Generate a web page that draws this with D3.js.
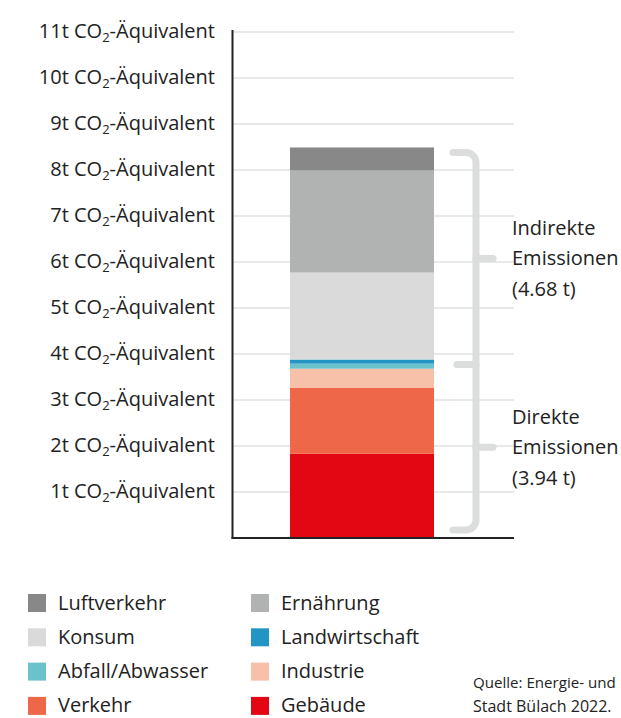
<!DOCTYPE html>
<html>
<head>
<meta charset="utf-8">
<script src="https://cdn.jsdelivr.net/npm/d3@7"></script>
<style>
  html, body { margin: 0; padding: 0; background: #fff; }
  svg { display: block; font-family: "Open Sans", "Noto Sans", sans-serif; }
</style>
</head>
<body>
<svg id="chart" width="621" height="718"></svg>
<script>
// ---- data ----
const category = ["Bülach"];
const sectors = ["Gebäude", "Verkehr", "Industrie", "Abfall/Abwasser", "Landwirtschaft", "Konsum", "Ernährung", "Luftverkehr"];
const values = [1.83, 1.44, 0.41, 0.11, 0.09, 1.89, 2.22, 0.50];
const colors = ["#e30613", "#ee6748", "#f7c0a8", "#6cc2cb", "#2295c4", "#d9dad9", "#b1b3b3", "#878887"];
const legendOrder = ["Luftverkehr", "Ernährung", "Konsum", "Landwirtschaft", "Abfall/Abwasser", "Industrie", "Verkehr", "Gebäude"];
const yTicks = [1, 2, 3, 4, 5, 6, 7, 8, 9, 10, 11];
const groups = [
  { lines: ["Indirekte", "Emissionen", "(4.68 t)"], from: "Konsum", to: "Luftverkehr" },
  { lines: ["Direkte", "Emissionen", "(3.94 t)"], from: "Gebäude", to: "Landwirtschaft" }
];
const sourceLines = ["Quelle: Energie- und", "Stadt Bülach 2022."];

// ---- layout ----
const svg = d3.select("#chart");
const axisX = 232.5, baseY = 538, plotRight = 514;
const y = d3.scaleLinear().domain([0, 11]).range([baseY, 32]);
const x = d3.scaleBand().domain(category).range([290, 434]).padding(0);
const textColor = "#222";

// stacked data
const row = { cat: category[0] };
sectors.forEach((s, i) => row[s] = values[i]);
const stack = d3.stack().keys(sectors)([row]);
const colorOf = d3.scaleOrdinal().domain(sectors).range(colors);

// gridlines
svg.append("g").selectAll("line").data(yTicks).join("line")
  .attr("x1", axisX).attr("x2", plotRight)
  .attr("y1", d => y(d)).attr("y2", d => y(d))
  .attr("stroke", "#e2e2e2").attr("stroke-width", 1.5);

// y labels
const lab = svg.append("g").selectAll("text").data(yTicks).join("text")
  .attr("x", 215).attr("y", d => y(d) + 6)
  .attr("text-anchor", "end").attr("font-size", 20).attr("fill", textColor);
lab.append("tspan").text(d => d + "t CO");
lab.append("tspan").attr("font-size", 13).attr("dy", 4).text("2");
lab.append("tspan").attr("dy", -4).text("-Äquivalent");

// bars
svg.append("g").selectAll("rect").data(stack).join("rect")
  .attr("x", x(category[0])).attr("width", x.bandwidth())
  .attr("y", d => y(d[0][1])).attr("height", d => y(d[0][0]) - y(d[0][1]))
  .attr("fill", d => colorOf(d.key));

// axes
svg.append("line").attr("x1", axisX).attr("x2", axisX).attr("y1", 30).attr("y2", baseY + 1)
  .attr("stroke", textColor).attr("stroke-width", 2);
svg.append("line").attr("x1", axisX - 1).attr("x2", plotRight).attr("y1", baseY).attr("y2", baseY)
  .attr("stroke", textColor).attr("stroke-width", 2);

// bracket
const layerOf = k => stack.find(s => s.key === k)[0];
const totalTop = y(layerOf("Luftverkehr")[1]) + 5;
const split = y(layerOf("Landwirtschaft")[1]) + 5;
const bottom = baseY - 8;
const bx = 476, r = 10, bracketCol = "#dcdddd";
const br = svg.append("g").attr("fill", "none").attr("stroke", bracketCol)
  .attr("stroke-width", 7).attr("stroke-linecap", "round");
br.append("path").attr("d",
  `M${bx - 23},${totalTop} H${bx - r} A${r},${r} 0 0 1 ${bx},${totalTop + r} V${bottom - r} A${r},${r} 0 0 1 ${bx - r},${bottom} H${bx - 23}`);
br.append("line").attr("x1", bx - 19).attr("x2", bx).attr("y1", split).attr("y2", split);
const mids = [(totalTop + split) / 2, (split + bottom) / 2];
mids.forEach(m => br.append("line").attr("x1", bx).attr("x2", bx + 17).attr("y1", m).attr("y2", m));

// bracket labels
groups.forEach((g, gi) => {
  const t = svg.append("text").attr("x", 512).attr("font-size", 20).attr("fill", textColor);
  g.lines.forEach((l, li) => {
    t.append("tspan").attr("x", 512).attr("y", mids[gi] + 7 + (li - 1) * 30.5).text(l);
  });
});

// legend
const leg = svg.append("g").selectAll("g").data(legendOrder).join("g")
  .attr("transform", (d, i) => `translate(${i % 2 === 0 ? 28 : 251},${593 + Math.floor(i / 2) * 34.3})`);
leg.append("rect").attr("width", 18).attr("height", 18).attr("y", 1).attr("fill", d => colorOf(d));
leg.append("text").attr("x", 30).attr("y", 16.5).attr("font-size", 20).attr("fill", textColor).text(d => d);

// source
svg.append("g").selectAll("text").data(sourceLines).join("text")
  .attr("x", 473).attr("y", (d, i) => 688 + i * 23.5)
  .attr("font-size", 16).attr("fill", textColor)
  .text(d => d)
  .each(function() {
    const w = this.getComputedTextLength();
    const maxW = 616 - 473;
    if (w > maxW) d3.select(this).attr("font-size", Math.floor(16 * maxW / w * 10) / 10);
  });
</script>
</body>
</html>
